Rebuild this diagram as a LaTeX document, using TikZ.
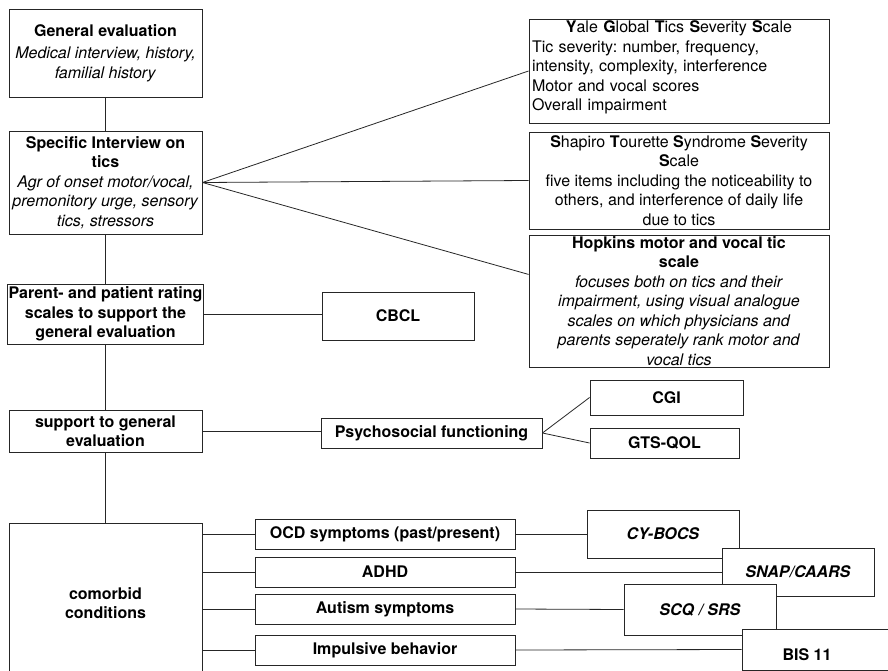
\documentclass[tikz,border=0pt]{standalone}
\usepackage{fontspec}
\setmainfont{TeX Gyre Heros}
\usetikzlibrary{calc}
\frenchspacing

\begin{document}
\begin{tikzpicture}
    [
        x=1pt, y=-1pt,
        box/.style={draw=black!85, line width=0.9pt, fill=white, align=center,
            inner xsep=1pt, inner ysep=1pt, font=\fontsize{16}{19.5}\selectfont},
        lbox/.style={box, minimum width=193pt},
        sbox/.style={box, minimum width=260pt, minimum height=30pt},
        rbox/.style={box, minimum width=300pt}
    ]
    \tikzstyle{line} = [draw, line width=0.8pt, black!85]

    \useasboundingbox (0,0) rectangle (888,671);
    \clip (0,0) rectangle (888,671);

    % Left column
    \node[lbox, minimum height=88pt] (gen_eval) at (105.5,53)
        {\textbf{General evaluation}\\[3pt] \textit{Medical interview, history,}\\ \textit{familial history}};
    \node[lbox, minimum height=103pt] (spec_int) at (105.5,182.5)
        {\textbf{Specific Interview on}\\ \textbf{tics}\\ \textit{Agr of onset motor/vocal,}\\
         \textit{premonitory urge, sensory}\\ \textit{tics, stressors}};
    \node[lbox, minimum height=60pt] (rating) at (105.5,314)
        {\textbf{Parent- and patient rating}\\ \textbf{scales to support the}\\ \textbf{general evaluation}};
    \node[lbox, minimum height=42pt] (support) at (105.5,431)
        {\textbf{support to general}\\ \textbf{evaluation}};
    \node[lbox, minimum height=160pt] (comorbid) at (105.5,603)
        {\textbf{comorbid}\\ \textbf{conditions}};
    \path[line] (gen_eval) -- (spec_int);
    \path[line] (spec_int) -- (rating);
    \path[line] (rating) -- (support);
    \path[line] (support) -- (comorbid);

    % Tic scales
    \node[rbox, minimum height=104pt, text width=294pt, align=left] (ygtss) at (679,71)
        {\makebox[294pt][c]{\textbf{Y}ale \textbf{G}lobal \textbf{T}ics \textbf{S}everity \textbf{S}cale}\\
         Tic severity: number, frequency,\\ intensity, complexity, interference\\
         Motor and vocal scores\\ Overall impairment\rule[-10pt]{0pt}{0pt}};
    \node[rbox, minimum height=97pt, inner ysep=0pt] (stsss) at (679,180.5)
        {\textbf{S}hapiro \textbf{T}ourette \textbf{S}yndrome \textbf{S}everity\\ \textbf{S}cale\\
         five items including the noticeability to\\ others, and interference of daily life\\ due to tics};
    \node[rbox, minimum height=132pt, inner ysep=0pt] (hopkins) at (679,301)
        {\textbf{Hopkins motor and vocal tic}\\ \textbf{scale}\\ \textit{focuses both on tics and their}\\
         \textit{impairment, using visual analogue}\\ \textit{scales on which physicians and}\\
         \textit{parents seperately rank motor and}\\ \textit{vocal tics}};
    \path[line] (spec_int.east) -- (ygtss.west);
    \path[line] (spec_int.east) -- (stsss.west);
    \path[line] (spec_int.east) -- ($(hopkins.north west)!0.3!(hopkins.south west)$);

    % Rating scales
    \node[box, minimum width=152pt, minimum height=48pt] (cbcl) at (398,316) {\textbf{CBCL}};
    \path[line] (rating.east) -- (rating.east -| cbcl.west);

    % Psychosocial functioning
    \node[box, minimum width=221pt, minimum height=30pt] (psycho) at (431.5,433)
        {\textbf{Psychosocial functioning}};
    \node[box, minimum width=153pt, minimum height=35pt] (cgi) at (666.5,397.5) {\textbf{CGI}};
    \node[box, minimum width=149pt, minimum height=30pt] (gts_qol) at (664.5,443) {\textbf{GTS-QOL}};
    \path[line] (support.east) -- (support.east -| psycho.west);
    \path[line] (psycho.east) -- (cgi.west);
    \path[line] (psycho.east) -- (gts_qol.west);

    % Comorbid conditions
    \node[sbox] (ocd) at (385,534) {\textbf{OCD symptoms (past/present)}};
    \node[sbox] (adhd) at (385,572) {\textbf{ADHD}};
    \node[sbox] (autism) at (385,609) {\textbf{Autism symptoms}};
    \node[sbox] (impulsive) at (385,650) {\textbf{Impulsive behavior}};
    \path[line] (ocd.west -| comorbid.east) -- (ocd.west);
    \path[line] (adhd.west -| comorbid.east) -- (adhd.west);
    \path[line] (autism.west -| comorbid.east) -- (autism.west);
    \path[line] (impulsive.west -| comorbid.east) -- (impulsive.west);

    % Scales for comorbid conditions
    \node[box, minimum width=152pt, minimum height=48pt] (cybocs) at (663,534) {\textbf{\textit{CY-BOCS}}};
    \node[box, minimum width=152pt, minimum height=48pt] (snap) at (798,572) {\textbf{\textit{SNAP/CAARS}}};
    \node[box, minimum width=152pt, minimum height=51pt] (scq) at (700,609.5) {\textbf{\textit{SCQ / SRS}}};
    \node[box, minimum width=180pt, minimum height=41pt, text height=22pt, text depth=0pt] (bis) at (832,649.5)
        {\textbf{BIS 11}\hspace*{50pt}};
    \path[line] (ocd.east) -- (cybocs.west);
    \path[line] (adhd.east) -- (snap.west);
    \path[line] (autism.east) -- (scq.west);
    \path[line] (impulsive.east) -- (bis.west);
\end{tikzpicture}
\end{document}
